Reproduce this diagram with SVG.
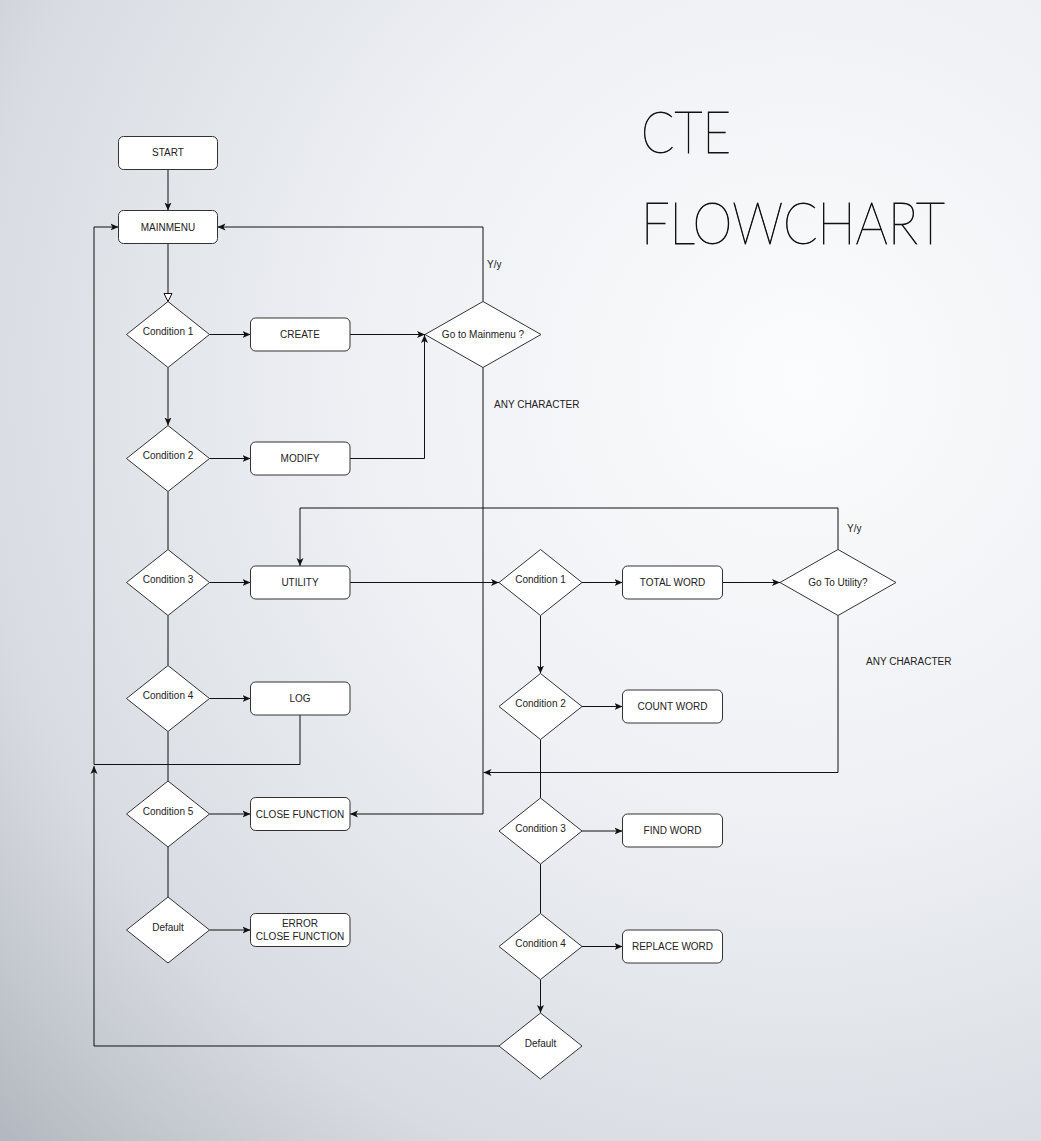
<svg xmlns="http://www.w3.org/2000/svg" width="1041" height="1141" viewBox="0 0 1041 1141">
<defs>
<radialGradient id="bg" gradientUnits="userSpaceOnUse" cx="800" cy="380" r="1110">
<stop offset="0" stop-color="#fbfcfd"/>
<stop offset="0.4" stop-color="#eef0f4"/>
<stop offset="0.75" stop-color="#d8dce2"/>
<stop offset="1" stop-color="#b2b6be"/>
</radialGradient>
<marker id="arr" viewBox="0 0 8 8" refX="8" refY="4" markerWidth="8" markerHeight="8" orient="auto" markerUnits="userSpaceOnUse">
<path d="M0,0.5 L8,4 L0,7.5 L2,4 z" fill="#111"/>
</marker>
<marker id="open" viewBox="0 0 10 10" refX="9" refY="5" markerWidth="10" markerHeight="10" orient="auto" markerUnits="userSpaceOnUse">
<path d="M1,1 L9,5 L1,9 z" fill="#fff" stroke="#111" stroke-width="1"/>
</marker>
</defs>
<style>
.box{fill:#fff;stroke:#333;stroke-width:1}
.dia{fill:#fff;stroke:#333;stroke-width:1}
.t{font-family:"Liberation Sans",Arial,sans-serif;font-size:10px;fill:#222;text-anchor:middle}
.lbl{font-family:"Liberation Sans",Arial,sans-serif;font-size:10px;fill:#222}
.c{fill:none;stroke:#111;stroke-width:1}
.a{marker-end:url(#arr)}
.title{font-family:Lato,"DejaVu Sans",sans-serif;font-weight:200;font-size:57px;fill:#111;stroke:#111;stroke-width:0.8}
</style>
<rect x="0" y="0" width="1041" height="1141" fill="url(#bg)"/>

<g id="title">
<text class="title" x="641" y="153" textLength="90" lengthAdjust="spacingAndGlyphs">CTE</text>
<text class="title" x="641" y="244" textLength="304" lengthAdjust="spacingAndGlyphs">FLOWCHART</text>
</g>

<g id="connectors">
<path class="c a" d="M168,169.5 V210.5"/>
<path class="c" d="M168,243.5 V301.5" marker-end="url(#open)"/>
<path class="c a" d="M209.5,334.5 H250.5"/>
<path class="c a" d="M350,334.5 H425"/>
<path class="c a" d="M350,458.5 H424.5 V335"/>
<path class="c a" d="M483,301.5 V227 H217.5"/>
<path class="c a" d="M483,367.5 V814 H350"/>
<path class="c a" d="M168,367.5 V425.5"/>
<path class="c a" d="M209.5,458.5 H250.5"/>
<path class="c" d="M168,491.5 V549.5"/>
<path class="c a" d="M209.5,582.5 H250.5"/>
<path class="c" d="M168,615.5 V665.5"/>
<path class="c a" d="M209.5,698.5 H250.5"/>
<path class="c" d="M168,731.5 V781"/>
<path class="c a" d="M209.5,814 H250.5"/>
<path class="c" d="M168,847 V897"/>
<path class="c a" d="M209.5,930 H250.5"/>
<path class="c a" d="M300,715 V764.5 H94 V227 H118.5"/>
<path class="c a" d="M350,582.5 H499"/>
<path class="c a" d="M582,582.5 H622.5"/>
<path class="c a" d="M722.5,582.5 H780"/>
<path class="c a" d="M838,549.5 V508 H300 V566"/>
<path class="c a" d="M838,615.5 V772.5 H483.5"/>
<path class="c a" d="M540.5,615.5 V673.5"/>
<path class="c a" d="M582,706.5 H622.5"/>
<path class="c" d="M540.5,739.5 V798"/>
<path class="c a" d="M582,831 H622.5"/>
<path class="c" d="M540.5,864 V913.5"/>
<path class="c a" d="M582,946.5 H622.5"/>
<path class="c a" d="M540.5,979.5 V1013"/>
<path class="c a" d="M499,1046 H94 V766"/>
<text class="lbl" x="487" y="268">Y/y</text>
<text class="lbl" x="494" y="408">ANY CHARACTER</text>
<text class="lbl" x="847" y="532">Y/y</text>
<text class="lbl" x="866" y="665">ANY CHARACTER</text>
</g>

<g id="start"><rect class="box" x="118.5" y="136.5" width="99" height="33" rx="5"/><text class="t" x="168" y="156">START</text></g>
<g id="mainmenu"><rect class="box" x="118.5" y="210.5" width="99" height="33" rx="5"/><text class="t" x="168" y="230.5">MAINMENU</text></g>

<g id="cond1"><path class="dia" d="M168,301.5 L209.5,334.5 L168,367.5 L126.5,334.5 z"/><text class="t" x="168" y="335">Condition 1</text></g>
<g id="create"><rect class="box" x="250.5" y="318" width="99.5" height="33" rx="5"/><text class="t" x="300" y="338">CREATE</text></g>
<g id="gomain"><path class="dia" d="M483,301.5 L541,334.5 L483,367.5 L425,334.5 z"/><text class="t" x="483" y="338">Go to Mainmenu ?</text></g>

<g id="cond2"><path class="dia" d="M168,425.5 L209.5,458.5 L168,491.5 L126.5,458.5 z"/><text class="t" x="168" y="459">Condition 2</text></g>
<g id="modify"><rect class="box" x="250.5" y="442" width="99.5" height="33" rx="5"/><text class="t" x="300" y="462">MODIFY</text></g>

<g id="cond3"><path class="dia" d="M168,549.5 L209.5,582.5 L168,615.5 L126.5,582.5 z"/><text class="t" x="168" y="583">Condition 3</text></g>
<g id="utility"><rect class="box" x="250.5" y="566" width="99.5" height="33" rx="5"/><text class="t" x="300" y="586">UTILITY</text></g>

<g id="cond4"><path class="dia" d="M168,665.5 L209.5,698.5 L168,731.5 L126.5,698.5 z"/><text class="t" x="168" y="699">Condition 4</text></g>
<g id="log"><rect class="box" x="250.5" y="682" width="99.5" height="33" rx="5"/><text class="t" x="300" y="702">LOG</text></g>

<g id="cond5"><path class="dia" d="M168,781 L209.5,814 L168,847 L126.5,814 z"/><text class="t" x="168" y="815">Condition 5</text></g>
<g id="close"><rect class="box" x="250.5" y="797.5" width="99.5" height="33" rx="5"/><text class="t" x="300" y="817.5">CLOSE FUNCTION</text></g>

<g id="default1"><path class="dia" d="M168,897 L209.5,930 L168,963 L126.5,930 z"/><text class="t" x="168" y="931">Default</text></g>
<g id="error"><rect class="box" x="250.5" y="913.5" width="99.5" height="33" rx="5"/><text class="t" x="300" y="927">ERROR</text><text class="t" x="300" y="939.5">CLOSE FUNCTION</text></g>

<g id="rcond1"><path class="dia" d="M540.5,549.5 L582,582.5 L540.5,615.5 L499,582.5 z"/><text class="t" x="540.5" y="583">Condition 1</text></g>
<g id="totalword"><rect class="box" x="622.5" y="566" width="100" height="33" rx="5"/><text class="t" x="672.5" y="586">TOTAL WORD</text></g>
<g id="goutil"><path class="dia" d="M838,549.5 L896,582.5 L838,615.5 L780,582.5 z"/><text class="t" x="838" y="586">Go To Utility?</text></g>

<g id="rcond2"><path class="dia" d="M540.5,673.5 L582,706.5 L540.5,739.5 L499,706.5 z"/><text class="t" x="540.5" y="707">Condition 2</text></g>
<g id="countword"><rect class="box" x="622.5" y="690" width="100" height="33" rx="5"/><text class="t" x="672.5" y="710">COUNT WORD</text></g>

<g id="rcond3"><path class="dia" d="M540.5,798 L582,831 L540.5,864 L499,831 z"/><text class="t" x="540.5" y="831.5">Condition 3</text></g>
<g id="findword"><rect class="box" x="622.5" y="814" width="100" height="33" rx="5"/><text class="t" x="672.5" y="834">FIND WORD</text></g>

<g id="rcond4"><path class="dia" d="M540.5,913.5 L582,946.5 L540.5,979.5 L499,946.5 z"/><text class="t" x="540.5" y="947">Condition 4</text></g>
<g id="replaceword"><rect class="box" x="622.5" y="930" width="100" height="33" rx="5"/><text class="t" x="672.5" y="950">REPLACE WORD</text></g>

<g id="default2"><path class="dia" d="M540.5,1013 L582,1046 L540.5,1079 L499,1046 z"/><text class="t" x="540.5" y="1047">Default</text></g>
</svg>
